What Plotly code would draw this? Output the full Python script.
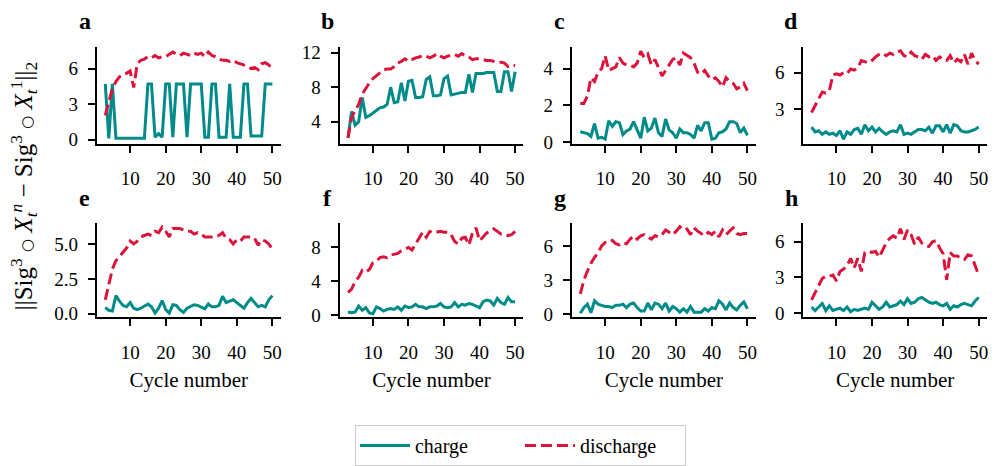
import plotly.graph_objects as go

# Cycle index shared by all panels
cycles = list(range(3, 51))

panel_letters = ["a", "b", "c", "d", "e", "f", "g", "h"]

charge_a = [4.7, 0.1, 4.7, 0.1,
            0.1, 0.1, 0.1, 0.1, 0.1, 0.1, 0.1, 0.1,
            4.7, 4.7, 0.2, 0.5, 0.2, 4.7, 4.7, 0.2, 4.7, 4.7,
            4.7, 0.2, 4.7, 4.7, 4.7, 4.7, 0.2, 0.2, 4.7, 4.7,
            0.2, 0.2, 0.2, 4.7, 0.2, 0.2, 0.2, 4.7, 4.7, 0.3,
            0.3, 0.3, 0.3, 4.7, 4.7, 4.7]
discharge_a = [2.05, 3.3, 4.3, 4.9, 5.3, 5.5, 5.6, 5.8, 4.4, 6.4,
               6.7, 6.8, 7.0, 6.9, 7.1, 6.9, 7.0, 7.0, 7.2, 7.4,
               7.2, 7.1, 7.3, 7.2, 7.1, 7.3, 7.2, 7.3, 7.0, 7.4,
               7.1, 7.0, 6.8, 6.7, 6.7, 6.6, 6.7, 6.5, 6.4, 6.3,
               6.2, 6.0, 6.1, 5.9, 6.4, 6.5, 6.3, 6.0]

charge_b = [2.2, 5.2, 3.6, 4.0, 6.8, 4.5, 4.7, 5.0, 5.3, 5.6,
            5.7, 6.0, 8.0, 6.2, 6.3, 8.5, 6.4, 8.7, 8.8, 6.8,
            6.8, 6.9, 8.9, 9.2, 7.0, 7.0, 7.1, 9.0, 9.3, 7.1,
            7.2, 7.3, 7.4, 7.4, 9.5, 7.4, 9.6, 9.6, 9.6, 9.7,
            9.7, 9.7, 7.5, 7.5, 9.8, 9.8, 7.5, 9.8]
discharge_b = [2.1, 4.5, 5.3, 6.0, 7.2, 7.9, 8.5, 9.0, 9.3, 9.7,
               10.0, 10.1, 10.1, 10.4, 10.8, 11.0, 11.3, 11.0, 11.2, 11.4,
               11.5, 11.7, 11.6, 11.4, 11.6, 11.9, 11.6, 11.4, 11.6, 11.7,
               11.8, 11.6, 11.9, 11.6, 11.5, 11.2, 11.3, 11.3, 11.2, 11.1,
               11.1, 11.0, 10.9, 10.9, 10.8, 10.4, 10.6, 10.5]

charge_c = [0.55, 0.5, 0.45, 0.3, 1.0, 0.2, 0.25, 0.15, 1.15, 0.85,
            1.1, 1.05, 0.4, 0.6, 0.7, 1.1, 0.6, 0.2, 1.35, 0.6,
            0.75, 1.3, 0.5, 0.3, 1.25, 0.65, 0.5, 0.2, 0.7, 0.5,
            0.5, 0.4, 0.2, 0.9, 0.6, 1.05, 1.05, 0.15, 0.2, 0.5,
            0.55, 0.7, 1.1, 1.1, 1.0, 0.5, 0.75, 0.35]
discharge_c = [2.1, 2.1, 2.5, 3.5, 3.3, 3.8, 4.0, 4.7, 3.9, 4.0,
               4.1, 4.6, 4.3, 4.2, 4.2, 4.1, 4.3, 4.95, 4.6, 4.8,
               4.2, 4.5, 4.0, 3.6, 3.9, 4.2, 4.5, 4.6, 4.2, 4.85,
               4.7, 4.6, 4.3, 3.8, 3.7, 3.9, 3.6, 3.4, 3.5, 3.3,
               3.0, 3.5, 3.3, 3.2, 2.9, 3.0, 3.2, 2.8]

charge_d = [1.5, 1.1, 1.2, 0.9, 1.1, 0.9, 1.0, 0.8, 1.2, 0.5,
            1.1, 0.9, 1.3, 1.4, 0.9, 1.7, 1.2, 1.5, 1.1, 1.4,
            1.1, 0.9, 1.1, 1.2, 1.1, 1.7, 0.9, 1.0, 0.9, 1.1,
            1.3, 1.3, 1.2, 1.5, 1.0, 1.6, 1.6, 1.1, 1.7, 1.0,
            1.7, 1.6, 1.2, 1.1, 1.1, 1.2, 1.3, 1.5]
discharge_d = [2.7, 3.3, 3.8, 4.4, 4.3, 4.5, 5.8, 5.9, 5.8, 6.0,
               5.9, 6.3, 6.2, 6.4, 7.0, 6.9, 6.8, 7.0, 7.3, 7.5,
               7.6, 7.4, 7.6, 7.5, 7.7, 7.8, 7.4, 7.3, 7.7, 7.4,
               7.3, 7.1, 7.5, 7.3, 7.4, 7.0, 7.3, 7.1, 7.0, 7.4,
               6.8, 7.1, 6.9, 7.5, 6.7, 7.6, 7.0, 6.7]

charge_e = [0.45, 0.25, 0.2, 1.3, 0.9, 0.6, 0.5, 0.8, 0.4, 0.3,
            0.4, 0.55, 0.7, 0.5, 0.05, 0.4, 0.95, 0.3, 0.05, 0.65,
            0.6, 0.3, 0.1, 0.4, 0.5, 0.65, 0.6, 0.5, 0.35, 0.7,
            0.5, 0.5, 0.6, 1.25, 0.8, 0.9, 1.0, 0.8, 0.6, 0.4,
            0.8, 1.1, 0.8, 0.5, 0.6, 0.5, 1.0, 1.3]
discharge_e = [1.0, 2.0, 3.2, 3.8, 4.1, 4.4, 4.7, 5.2, 5.0, 5.2,
               5.5, 5.6, 5.7, 5.6, 5.9, 5.8, 6.2, 5.9, 5.5, 6.1,
               6.1, 6.1, 6.0, 5.9, 5.9, 5.7, 5.8, 5.7, 5.5, 5.5,
               5.5, 5.5, 5.6, 5.8, 5.4, 5.3, 5.0, 5.3, 5.2, 5.5,
               5.5, 5.5, 5.4, 4.9, 5.3, 5.2, 5.0, 4.6]

charge_f = [0.4, 0.3, 0.4, 1.1, 0.6, 0.9, 0.3, 0.2, 1.0, 0.8,
            0.5, 0.7, 0.8, 0.7, 1.0, 0.6, 1.1, 0.9, 1.0, 1.3,
            1.0, 1.0, 0.8, 1.0, 1.0, 1.1, 1.4, 1.0, 0.9, 1.0,
            1.5, 1.0, 1.3, 1.2, 1.4, 1.3, 1.1, 0.9, 1.6, 1.8,
            1.7, 1.2, 2.0, 1.5, 1.3, 2.1, 1.6, 1.6]
discharge_f = [2.7, 3.1, 4.0, 4.5, 5.3, 5.1, 5.4, 6.2, 6.4, 6.8,
               6.9, 6.8, 7.1, 7.2, 7.3, 7.6, 7.8, 8.0, 7.7, 8.4,
               9.0, 9.8, 9.2, 9.9, 9.7, 9.8, 9.9, 9.8, 9.8, 9.5,
               8.7, 8.4, 9.1, 9.2, 8.3, 9.7, 10.3, 8.8, 9.2, 9.7,
               9.9, 10.2, 9.9, 9.6, 9.6, 9.4, 9.5, 9.9]

charge_g = [0.1, 0.6, 0.9, 0.15, 1.2, 0.9, 0.8, 0.7, 0.7, 0.6,
            0.8, 0.8, 0.9, 0.6, 0.9, 1.0, 0.6, 0.3, 0.3, 1.0,
            0.4, 1.0, 0.9, 0.5, 1.0, 0.3, 0.7, 0.5, 0.2, 0.5,
            0.2, 0.7, 0.2, 0.2, 0.2, 0.5, 0.3, 0.6, 0.5, 1.2,
            0.9, 0.4, 1.0, 0.6, 0.4, 0.8, 1.1, 0.5]
discharge_g = [1.8, 3.0, 3.8, 4.5, 5.0, 5.4, 6.0, 6.3, 6.3, 6.5,
               6.2, 6.1, 6.3, 6.2, 6.6, 6.9, 6.6, 6.9, 7.0, 6.8,
               6.6, 6.9, 6.8, 7.0, 7.4, 7.2, 7.0, 7.3, 7.7, 7.4,
               7.5, 7.0, 7.6, 7.3, 7.1, 6.9, 7.2, 7.0, 7.3, 6.8,
               7.4, 7.0, 7.3, 7.6, 7.1, 7.0, 7.1, 7.1]

charge_h = [0.5, 0.2, 0.5, 0.8, 0.2, 0.6, 0.2, 0.3, 0.4, 0.2,
            0.5, 0.1, 0.3, 0.2, 0.3, 0.4, 0.3, 0.9, 0.6, 0.3,
            0.5, 0.9, 0.5, 0.6, 0.7, 1.0, 0.7, 1.2, 0.8, 0.9,
            1.2, 1.3, 1.1, 0.9, 0.8, 0.9, 0.7, 0.6, 0.8, 0.3,
            0.6, 0.5, 0.7, 0.8, 0.7, 0.6, 1.0, 1.3]
discharge_h = [1.1, 1.7, 2.3, 2.9, 3.1, 3.1, 3.2, 2.7, 3.5, 3.7,
               4.0, 4.6, 3.8, 4.6, 3.5, 5.1, 5.2, 5.1, 5.2, 4.7,
               5.3, 5.9, 6.3, 6.5, 6.3, 7.1, 6.2, 7.0, 6.6, 5.8,
               6.4, 5.9, 5.7, 5.6, 6.0, 6.1, 5.5, 5.0, 2.8, 5.1,
               4.8, 4.8, 4.6, 4.5, 4.9, 4.8, 4.0, 3.2]

charge_series = [charge_a, charge_b, charge_c, charge_d,
                 charge_e, charge_f, charge_g, charge_h]
discharge_series = [discharge_a, discharge_b, discharge_c, discharge_d,
                    discharge_e, discharge_f, discharge_g, discharge_h]

# y ticks for each panel
y_tickvals = [[0, 3, 6], [4, 8, 12], [0, 2, 4], [3, 6],
              [0, 2.5, 5], [0, 4, 8], [0, 3, 6], [0, 3, 6]]
y_ticktext = [["0", "3", "6"], ["4", "8", "12"], ["0", "2", "4"], ["3", "6"],
              ["0.0", "2.5", "5.0"], ["0", "4", "8"], ["0", "3", "6"], ["0", "3", "6"]]
y_ranges = [[-0.35, 7.85], [1.45, 12.7], [-0.1, 5.2], [0.13, 8.14],
            [-0.25, 6.48], [-0.23, 10.86], [-0.25, 8.0], [-0.37, 7.57]]
x_ticks = [10, 20, 30, 40, 50]
x_range = [0.65, 52.35]

W, H = 995, 466
col_left = [97, 340, 572.5, 804]
col_width = 184
row_px = [(44, 144), (226, 323)]

CHARGE = "#008B8B"
DISCHARGE = "#DC143C"
FONT = "Liberation Serif"

fig = go.Figure()
layout = dict(
    width=W, height=H,
    margin=dict(l=0, r=0, t=0, b=0),
    paper_bgcolor="white", plot_bgcolor="white",
    font=dict(family=FONT, size=19, color="black"),
    showlegend=True,
)

annotations = []
for i in range(8):
    r, c = divmod(i, 4)
    n = "" if i == 0 else str(i + 1)
    xa, ya = "xaxis" + n, "yaxis" + n
    x0 = col_left[c] / W
    x1 = (col_left[c] + col_width) / W
    top, bot = row_px[r]
    y0 = 1 - bot / H
    y1 = 1 - top / H
    axis_common = dict(
        showline=True, linecolor="black", linewidth=2,
        ticks="outside", ticklen=7, tickwidth=2, tickcolor="black",
        showgrid=False, zeroline=False,
        tickfont=dict(family=FONT, size=19, color="black"),
    )
    layout[xa] = dict(domain=[x0, x1], anchor="y" + n, range=x_range,
                      tickvals=x_ticks, ticklabelstandoff=10, **axis_common)
    layout[ya] = dict(domain=[y0, y1], anchor="x" + n, range=y_ranges[i],
                      tickvals=y_tickvals[i], ticktext=y_ticktext[i],
                      ticklabelstandoff=6, **axis_common)
    if r == 1:
        layout[xa]["title"] = dict(text="Cycle number",
                                   font=dict(family=FONT, size=21), standoff=10)

    fig.add_trace(go.Scatter(
        x=cycles, y=charge_series[i], mode="lines", name="charge",
        line=dict(color=CHARGE, width=3), xaxis="x" + n, yaxis="y" + n,
        showlegend=(i == 0), legendgroup="charge"))
    fig.add_trace(go.Scatter(
        x=cycles, y=discharge_series[i], mode="lines", name="discharge",
        line=dict(color=DISCHARGE, width=3, dash="11px,5px"),
        xaxis="x" + n, yaxis="y" + n,
        showlegend=(i == 0), legendgroup="discharge"))

    annotations.append(dict(
        text="<b>" + panel_letters[i] + "</b>",
        xref="paper", yref="paper",
        x=(col_left[c] - 12) / W, y=1 - (top - 26) / H,
        xanchor="center", yanchor="middle", showarrow=False,
        font=dict(family=FONT, size=24, color="black")))

ring = "<span style='font-family:DejaVu Serif;font-size:15px'>○</span>"
annotations.append(dict(
    text="||Sig<sup>3</sup> " + ring + " <i>X</i><sub><i>t</i></sub><sup><i>n</i></sup>"
         " − Sig<sup>3</sup> " + ring + " <i>X</i><sub><i>t</i></sub><sup>1</sup>||<sub>2</sub>",
    xref="paper", yref="paper", x=24 / W, y=1 - 187 / H,
    xanchor="center", yanchor="middle", textangle=-90, showarrow=False,
    font=dict(family=FONT, size=25, color="black")))

layout["annotations"] = annotations
layout["legend"] = dict(
    orientation="h", x=521 / W, xanchor="center", y=1 - 434 / H, yanchor="top",
    bgcolor="white", bordercolor="#cccccc", borderwidth=1,
    font=dict(family=FONT, size=20, color="black"),
    entrywidth=100, itemwidth=50,
)

fig.update_layout(**layout)
fig.write_html("out.html")
